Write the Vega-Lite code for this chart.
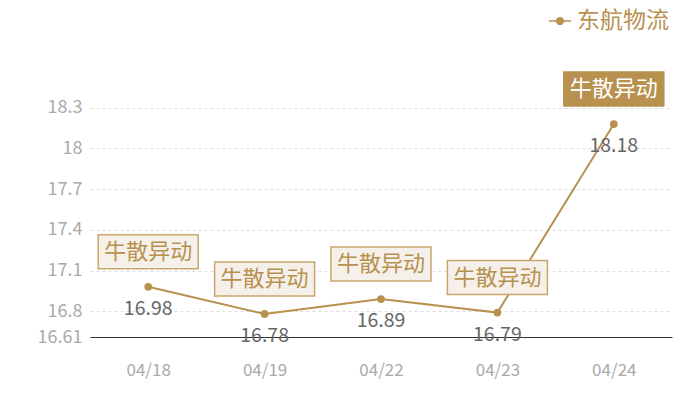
{
  "$schema": "https://vega.github.io/schema/vega-lite/v6.json",
  "width": 582,
  "height": 297,
  "autosize": "none",
  "padding": {"left": 90, "top": 40, "right": 28, "bottom": 63},
  "background": "white",
  "data": {
    "values": [
      {"date": "04/18", "price": 16.98, "tag": "牛散异动", "series": "东航物流"},
      {"date": "04/19", "price": 16.78, "tag": "牛散异动", "series": "东航物流"},
      {"date": "04/22", "price": 16.89, "tag": "牛散异动", "series": "东航物流"},
      {"date": "04/23", "price": 16.79, "tag": "牛散异动", "series": "东航物流"},
      {"date": "04/24", "price": 18.18, "tag": "牛散异动", "series": "东航物流"}
    ]
  },
  "encoding": {
    "x": {
      "field": "date",
      "type": "ordinal",
      "scale": {"type": "point", "padding": 0.5},
      "axis": {
        "title": null,
        "labelAngle": 0,
        "labelColor": "#aaaaaa",
        "labelFontSize": 17,
        "labelFont": "Noto Sans CJK SC",
        "labelPadding": 25,
        "ticks": false,
        "domainColor": "#333333",
        "domainWidth": 1.2,
        "grid": false
      }
    },
    "y": {
      "field": "price",
      "type": "quantitative",
      "scale": {"domain": [16.61, 18.8], "nice": false, "zero": false},
      "axis": {
        "title": null,
        "values": [16.61, 16.8, 17.1, 17.4, 17.7, 18, 18.3],
        "labelExpr": "format(datum.value, '.4~g')",
        "labelColor": "#aaaaaa",
        "labelFontSize": 18,
        "labelFont": "Noto Sans CJK SC",
        "labelPadding": 8,
        "ticks": false,
        "domain": false,
        "grid": true,
        "gridColor": "#dddddd",
        "gridDash": [3, 3]
      }
    }
  },
  "layer": [
    {
      "mark": {"type": "line", "color": "#b8914f", "strokeWidth": 2},
      "encoding": {
        "color": {
          "field": "series",
          "type": "nominal",
          "scale": {"range": ["#b8914f"]},
          "legend": {
            "title": null,
            "orient": "none",
            "legendX": 458,
            "legendY": -31,
            "symbolType": "M-1,0 L1,0 M-0.3,0 A0.3,0.3 0 1,1 0.3,0 A0.3,0.3 0 1,1 -0.3,0 Z",
            "symbolSize": 500,
            "symbolStrokeWidth": 1.5,
            "symbolFillColor": "#b8914f",
            "symbolStrokeColor": "#d9c29a",
            "labelFont": "Noto Sans CJK SC",
            "labelFontSize": 23,
            "labelColor": "#b8914f",
            "labelOffset": 5,
            "labelLimit": 200
          }
        }
      }
    },
    {
      "mark": {"type": "point", "filled": true, "color": "#b8914f", "size": 60, "opacity": 1}
    },
    {
      "mark": {
        "type": "text",
        "dy": 22,
        "fontSize": 19.5,
        "font": "Noto Sans CJK SC",
        "color": "#666666"
      },
      "encoding": {"text": {"field": "price", "type": "quantitative", "format": ".2f"}}
    },
    {
      "mark": {
        "type": "rect",
        "width": 100,
        "height": 34,
        "yOffset": -35,
        "strokeWidth": 1.5
      },
      "encoding": {
        "fill": {
          "condition": {"test": "datum.date === '04/24'", "value": "#b8914f"},
          "value": "#f5f0ea"
        },
        "stroke": {
          "condition": {"test": "datum.date === '04/24'", "value": "#b8914f"},
          "value": "#c9a66b"
        }
      }
    },
    {
      "mark": {
        "type": "text",
        "dy": -35,
        "fontSize": 22,
        "font": "Noto Sans CJK SC",
        "baseline": "middle"
      },
      "encoding": {
        "text": {"field": "tag"},
        "color": {
          "condition": {"test": "datum.date === '04/24'", "value": "#ffffff"},
          "value": "#b8914f"
        }
      }
    }
  ],
  "config": {"view": {"stroke": null}}
}
